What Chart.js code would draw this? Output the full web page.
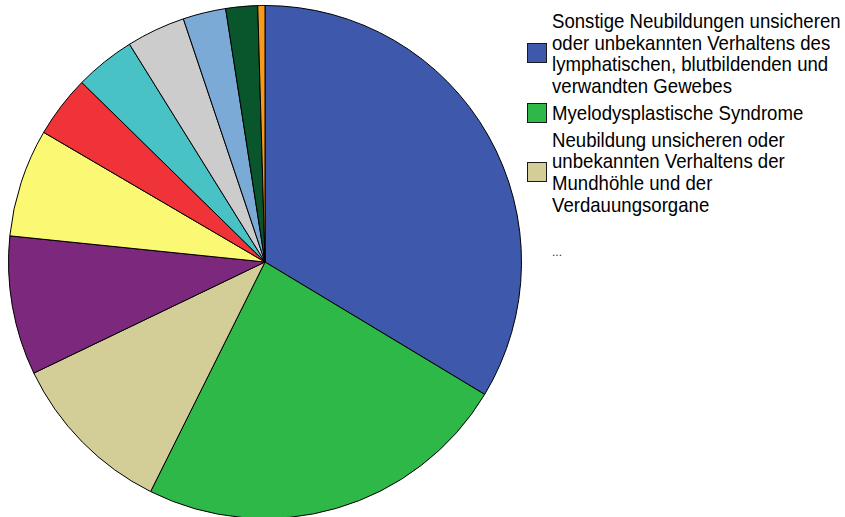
<!DOCTYPE html>
<html><head><meta charset="utf-8">
<script src="https://cdn.jsdelivr.net/npm/chart.js@4"></script>
<style>
html,body{margin:0;padding:0;background:#fff;width:845px;height:517px;overflow:hidden;}
#wrap{position:absolute;left:8px;top:5px;width:514px;height:514px;}
#legend{position:absolute;left:527px;top:10px;font-family:"Liberation Sans",Arial,sans-serif;color:#000;}
.item{display:flex;align-items:center;margin-bottom:5px;}
.box{width:18px;height:18px;border:1px solid #1a1a1a;flex:none;}
.txt{margin-left:5px;font-size:21px;line-height:21.7px;transform:scaleX(0.886);transform-origin:left center;white-space:nowrap;}
#more{position:absolute;left:552px;top:246px;font-family:"Liberation Sans",Arial,sans-serif;font-size:12px;line-height:12px;color:#333;}
</style>
</head><body>
<div id="wrap"><canvas id="c"></canvas></div>
<div id="legend"></div>
<div id="more">...</div>
<script>
// Categories (only the first three are named in the reference legend)
const categories = [
  ["Sonstige Neubildungen unsicheren", "oder unbekannten Verhaltens des", "lymphatischen, blutbildenden und", "verwandten Gewebes"],
  ["Myelodysplastische Syndrome"],
  ["Neubildung unsicheren oder", "unbekannten Verhaltens der", "Mundhöhle und der", "Verdauungsorgane"],
  "weitere 4", "weitere 5", "weitere 6", "weitere 7", "weitere 8", "weitere 9", "weitere 10", "weitere 11"
];
// Slice shares (percent)
const values = [33.6, 23.7, 10.5, 8.75, 6.8, 3.9, 3.8, 3.7, 2.7, 2.0, 0.45];
const colors = ["#3E58AC", "#2EB848", "#D3CE97", "#7C287D", "#FBF873", "#EF3338", "#48C2C5", "#CCCCCC", "#7AAAD5", "#0A562C", "#F89A1C"];
const legendCount = 3;

new Chart(document.getElementById('c'), {
  type: 'pie',
  data: {
    labels: categories,
    datasets: [{ data: values, backgroundColor: colors, borderColor: '#000', borderWidth: 1 }]
  },
  options: {
    responsive: true, maintainAspectRatio: false, animation: false,
    layout: { padding: 0 },
    plugins: { legend: { display: false }, tooltip: { enabled: false } }
  }
});

const lg = document.getElementById('legend');
for (let i = 0; i < legendCount; i++) {
  const it = document.createElement('div'); it.className = 'item';
  const b = document.createElement('div'); b.className = 'box'; b.style.background = colors[i];
  const t = document.createElement('div'); t.className = 'txt';
  const lines = Array.isArray(categories[i]) ? categories[i] : [categories[i]];
  lines.forEach((l, k) => { if (k) t.appendChild(document.createElement('br')); t.appendChild(document.createTextNode(l)); });
  it.appendChild(b); it.appendChild(t); lg.appendChild(it);
}
</script>
</body></html>
